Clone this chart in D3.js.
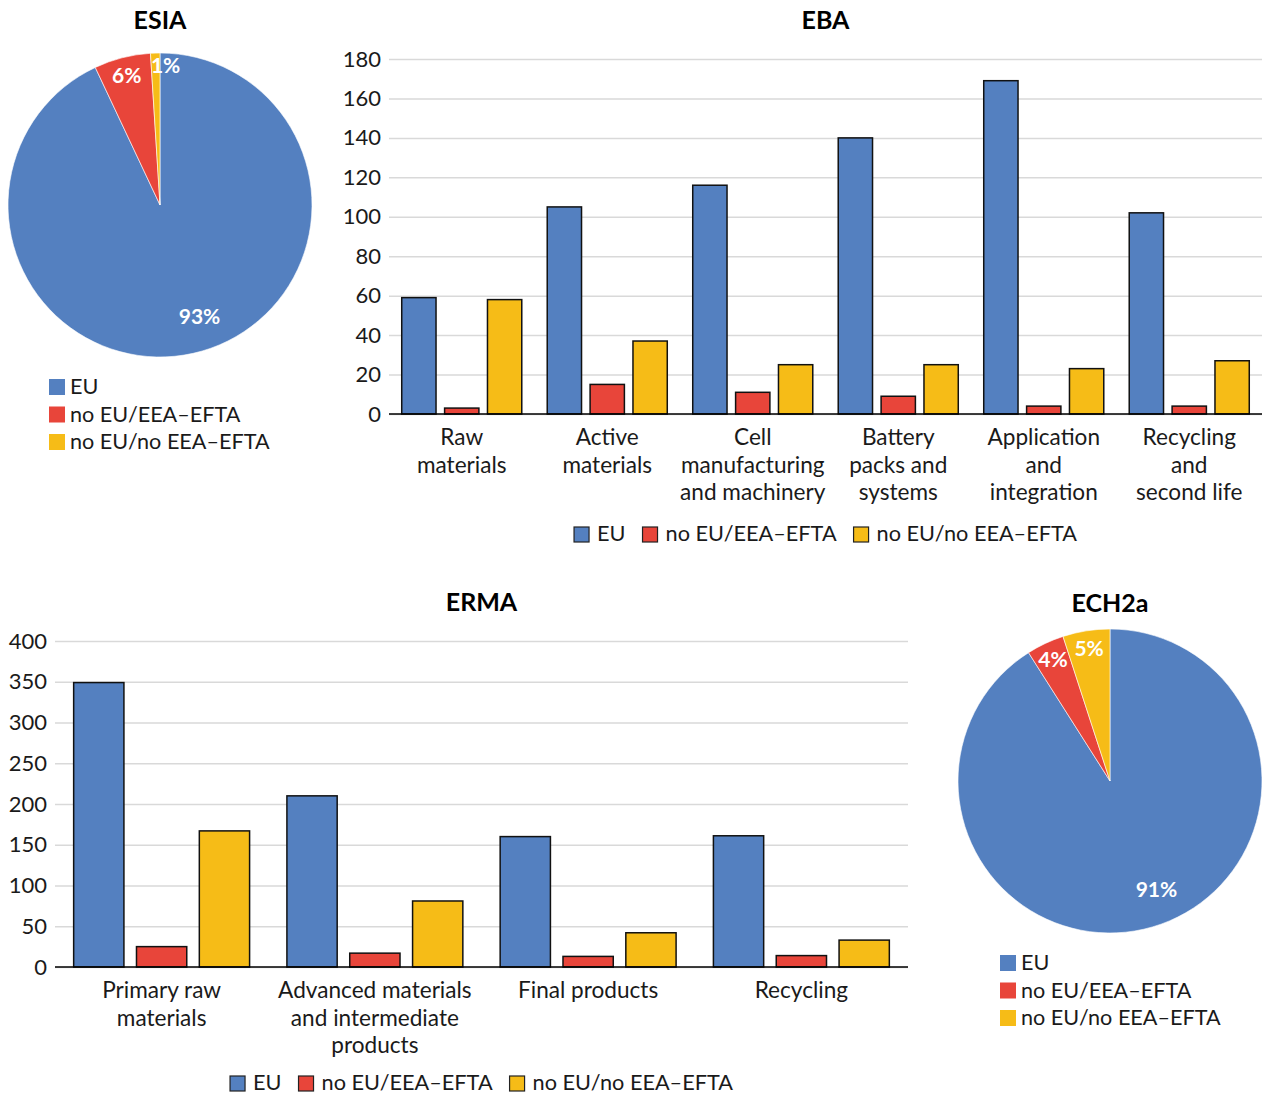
<!DOCTYPE html>
<html>
<head>
<meta charset="utf-8">
<script src="https://cdn.jsdelivr.net/npm/d3@7"></script>
<style>
body { margin: 0; background: #fff; }
svg text { font-family: Lato, "Open Sans", sans-serif; fill: #1a1a1a; }
</style>
</head>
<body>
<svg id="chart" width="1263" height="1095"></svg>
<script>
// series shared by all four panels
var seriesNames = ["EU", "no EU/EEA–EFTA", "no EU/no EEA–EFTA"];
var seriesColors = ["#5480c0", "#e8453a", "#f6bc17"];

// pies (percent)
var esiaShares = [93, 6, 1];
var ech2aShares = [91, 4, 5];

// EBA bars
var ebaCategories = [["Raw", "materials"], ["Active", "materials"], ["Cell", "manufacturing", "and machinery"],
  ["Battery", "packs and", "systems"], ["Application", "and", "integration"], ["Recycling", "and", "second life"]];
var ebaEU = [59, 105, 116, 140, 169, 102];
var ebaNoEEA = [3, 15, 11, 9, 4, 4];
var ebaNonEEA = [58, 37, 25, 25, 23, 27];
var ebaTicks = [0, 20, 40, 60, 80, 100, 120, 140, 160, 180];

// ERMA bars
var ermaCategories = [["Primary raw", "materials"], ["Advanced materials", "and intermediate", "products"],
  ["Final products"], ["Recycling"]];
var ermaEU = [349, 210, 160, 161];
var ermaNoEEA = [25, 17, 13, 14];
var ermaNonEEA = [167, 81, 42, 33];
var ermaTicks = [0, 50, 100, 150, 200, 250, 300, 350, 400];

var svg = d3.select("#chart");

function title(txt, x, y) {
  svg.append("text")
    .attr("x", x).attr("y", y)
    .attr("text-anchor", "middle")
    .style("font-size", "25px")
    .style("font-weight", "bold")
    .style("fill", "#000")
    .text(txt);
}

function drawPie(name, shares, cx, cy, R, titleY, legX, legY) {
  title(name, cx, titleY);
  var g = svg.append("g").attr("transform", "translate(" + cx + "," + cy + ")");
  var pie = d3.pie().sort(null).startAngle(0).endAngle(2 * Math.PI);
  var arcs = pie(shares);
  var arc = d3.arc().innerRadius(0).outerRadius(R);

  g.selectAll("path.slice")
    .data(arcs)
    .enter().append("path")
      .attr("class", "slice")
      .attr("d", arc)
      .attr("fill", function(d, i) { return seriesColors[i]; })
      .attr("stroke", "#fff")
      .attr("stroke-width", 0.6);

  g.selectAll("text.lbl")
    .data(arcs)
    .enter().append("text")
      .attr("class", "lbl")
      .attr("text-anchor", "middle")
      .attr("dy", "0.35em")
      .style("font-size", "21px")
      .style("font-weight", "bold")
      .style("fill", "#fff")
      .attr("transform", function(d) {
        var mid = (d.startAngle + d.endAngle) / 2;
        var r = R * 0.88, dx = 0;
        if (d.data > 50) { r = R * 0.78; mid -= 0.12; }
        if (d.data < 2) { dx = 10; r = R * 0.92; }
        return "translate(" + (Math.sin(mid) * r + dx) + "," + (-Math.cos(mid) * r) + ")";
      })
      .text(function(d) { return d.data + "%"; });

  var leg = svg.append("g").attr("transform", "translate(" + legX + "," + legY + ")");
  seriesNames.forEach(function(s, i) {
    leg.append("rect")
      .attr("x", 0).attr("y", i * 27.5)
      .attr("width", 16).attr("height", 16)
      .attr("fill", seriesColors[i]);
    leg.append("text")
      .attr("x", 21).attr("y", i * 27.5 + 15)
      .style("font-size", "21.6px")
      .text(s);
  });
}

function drawBars(name, cats, series, ticks, x0r, y0, y1, titleY, legY) {
  var cx = (x0r[0] + x0r[1]) / 2;
  title(name, cx, titleY);

  var x0 = d3.scaleBand().domain(d3.range(cats.length)).range(x0r)
    .paddingInner(0.175).paddingOuter(0.0875);
  var x1 = d3.scaleBand().domain(d3.range(series.length)).range([0, x0.bandwidth()])
    .paddingInner(0.2).paddingOuter(0);
  var y = d3.scaleLinear().domain([ticks[0], ticks[ticks.length - 1]]).range([y0, y1]);

  var g = svg.append("g");
  var yAxis = g.append("g")
    .attr("transform", "translate(" + x0r[0] + ",0)")
    .call(d3.axisLeft(y).tickValues(ticks).tickSize(-(x0r[1] - x0r[0])).tickPadding(8));
  yAxis.select(".domain").remove();
  yAxis.selectAll("line").attr("stroke", "#d9d9d9").attr("stroke-width", 1.5);
  yAxis.selectAll("text").style("font-size", "22px").attr("fill", "#1a1a1a");

  var groups = g.selectAll("g.cat")
    .data(cats)
    .enter().append("g")
      .attr("class", "cat")
      .attr("transform", function(d, i) { return "translate(" + x0(i) + ",0)"; });

  groups.selectAll("rect")
    .data(function(d, ci) { return series.map(function(s, si) { return {si: si, v: s[ci]}; }); })
    .enter().append("rect")
      .attr("x", function(d) { return x1(d.si); })
      .attr("y", function(d) { return y(d.v); })
      .attr("width", x1.bandwidth())
      .attr("height", function(d) { return y(0) - y(d.v); })
      .attr("fill", function(d) { return seriesColors[d.si]; })
      .attr("stroke", "#111")
      .attr("stroke-width", 1.5);

  g.append("line")
    .attr("x1", x0r[0]).attr("x2", x0r[1])
    .attr("y1", y(0)).attr("y2", y(0))
    .attr("stroke", "#000").attr("stroke-width", 1.5);

  groups.append("text")
    .attr("text-anchor", "middle")
    .style("font-size", "22.6px")
    .each(function(d) {
      var t = d3.select(this);
      d.forEach(function(line, li) {
        t.append("tspan")
          .attr("x", x0.bandwidth() / 2)
          .attr("y", y(0) + 31 + li * 27.5)
          .text(line);
      });
    });

  // horizontal legend centred under the plot
  var leg = svg.append("g");
  var xPos = 0;
  seriesNames.forEach(function(s, i) {
    leg.append("rect")
      .attr("x", xPos).attr("y", legY - 14)
      .attr("width", 15).attr("height", 15)
      .attr("fill", seriesColors[i])
      .attr("stroke", "#222").attr("stroke-width", 1.2);
    var t = leg.append("text")
      .attr("x", xPos + 23).attr("y", legY)
      .style("font-size", "21.7px")
      .text(s);
    xPos += 23 + t.node().getComputedTextLength() + 17;
  });
  var w = xPos - 17;
  leg.attr("transform", "translate(" + (cx - w / 2) + ",0)");
}

drawPie("ESIA", esiaShares, 160, 205, 152, 29, 49, 379);
drawPie("ECH2a", ech2aShares, 1110, 781, 152, 612, 1000, 955);

drawBars("EBA", ebaCategories, [ebaEU, ebaNoEEA, ebaNonEEA], ebaTicks, [389, 1262], 414, 59, 29, 541);
drawBars("ERMA", ermaCategories, [ermaEU, ermaNoEEA, ermaNonEEA], ermaTicks, [55, 908], 967, 641, 611, 1090);
</script>
</body>
</html>
